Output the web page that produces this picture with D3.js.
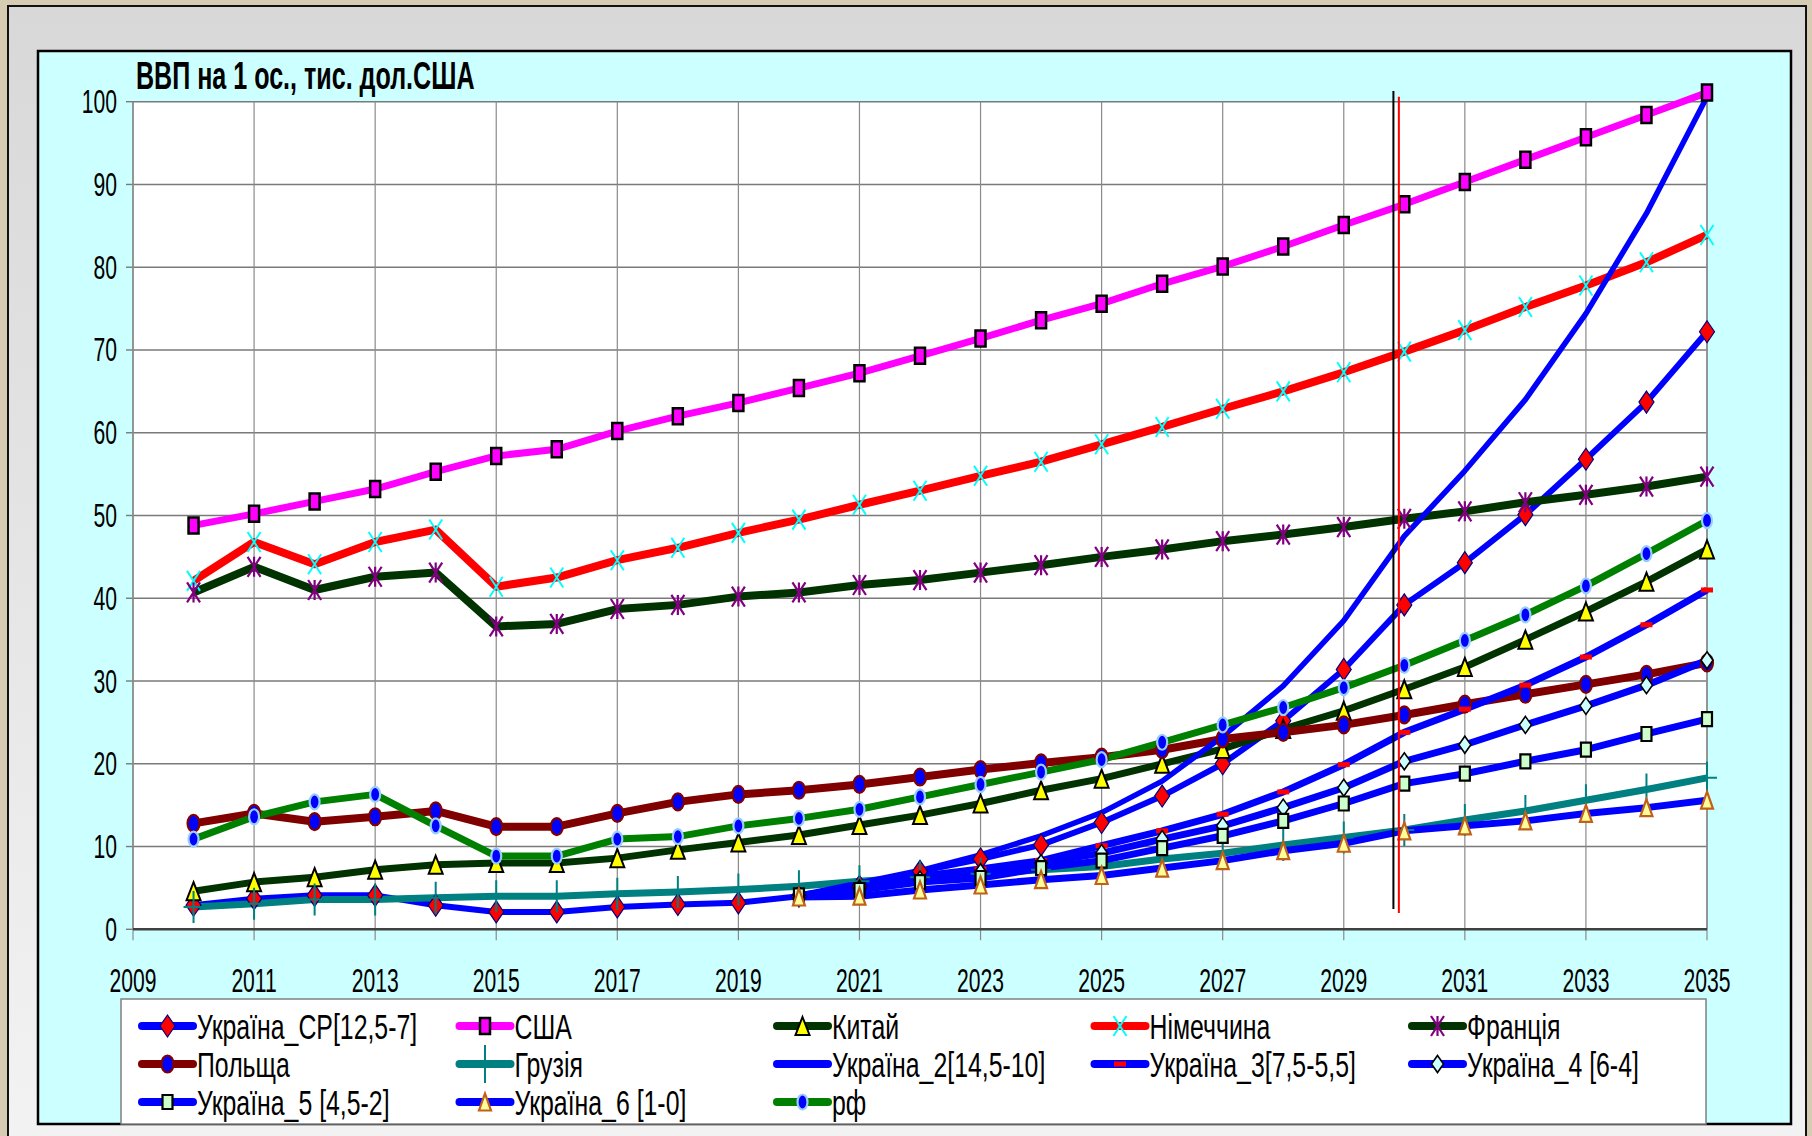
<!DOCTYPE html>
<html><head><meta charset="utf-8">
<script src="https://cdn.jsdelivr.net/npm/d3@7"></script>
<style>html,body{margin:0;padding:0;background:#d8ceb6;overflow:hidden} svg{display:block}</style>
</head><body>
<svg id="c" width="1812" height="1136"></svg>
<script>
// ---------------- DATA ----------------
const years = d3.range(2010, 2036);          // 2010..2035
const scenarioYears = d3.range(2020, 2036);  // 2020..2035
const xTickLabels = d3.range(2009, 2036, 2);
const yTickLabels = d3.range(0, 101, 10);
const titleText = "ВВП на 1 ос., тис. дол.США";

const seriesNames = ["Україна_СР[12,5-7]", "США", "Китай", "Німеччина", "Франція",
  "Польща", "Грузія", "Україна_2[14,5-10]", "Україна_3[7,5-5,5]", "Україна_4 [6-4]",
  "Україна_5 [4,5-2]", "Україна_6 [1-0]", "рф"];

const ukraineCP = [2.9, 3.7, 4.1, 4.1, 2.9, 2.1, 2.1, 2.7, 3.0, 3.2, 4.0, 5.2, 7.0, 8.5, 10.2, 12.9, 16.1, 20.0, 25.2, 31.4, 39.2, 44.3, 50.1, 56.8, 63.7, 72.2];
const usa = [48.8, 50.2, 51.7, 53.2, 55.3, 57.2, 58.0, 60.2, 62.0, 63.6, 65.4, 67.2, 69.3, 71.4, 73.6, 75.6, 78.0, 80.1, 82.5, 85.1, 87.6, 90.3, 93.0, 95.7, 98.4, 101.1];
const china = [4.6, 5.7, 6.3, 7.2, 7.8, 8.0, 8.0, 8.6, 9.6, 10.5, 11.4, 12.6, 13.8, 15.2, 16.8, 18.2, 20.0, 21.8, 24.2, 26.4, 29.0, 31.7, 35.0, 38.4, 42.0, 45.9];
const germany = [42.1, 46.8, 44.1, 46.8, 48.3, 41.4, 42.5, 44.6, 46.1, 47.9, 49.5, 51.3, 53.0, 54.8, 56.5, 58.6, 60.7, 62.9, 65.0, 67.3, 69.8, 72.4, 75.2, 77.8, 80.6, 83.9];
const france = [40.7, 43.8, 41.0, 42.6, 43.1, 36.6, 36.9, 38.7, 39.2, 40.2, 40.7, 41.6, 42.2, 43.1, 44.0, 45.0, 45.9, 46.9, 47.7, 48.6, 49.6, 50.5, 51.6, 52.5, 53.5, 54.7];
const poland = [12.8, 14.0, 13.0, 13.6, 14.3, 12.4, 12.4, 14.0, 15.4, 16.3, 16.8, 17.5, 18.4, 19.3, 20.1, 20.8, 21.7, 23.0, 23.8, 24.7, 25.9, 27.2, 28.4, 29.6, 30.8, 32.2];
const georgia = [2.7, 3.1, 3.6, 3.6, 3.8, 4.0, 4.0, 4.3, 4.5, 4.8, 5.2, 5.8, 6.3, 6.7, 7.2, 7.6, 8.5, 9.2, 10.2, 11.1, 12.0, 13.2, 14.3, 15.6, 16.9, 18.3];
const ukraine2 = [4.1, 5.6, 7.1, 9.0, 11.3, 14.1, 17.9, 23.3, 29.4, 37.3, 47.5, 55.4, 64.0, 74.4, 86.5, 100.6];
const ukraine3 = [4.1, 5.0, 6.4, 7.3, 8.3, 10.1, 11.9, 13.9, 16.6, 19.9, 23.8, 26.6, 29.5, 32.9, 36.8, 41.0];
const ukraine4 = [4.1, 4.9, 6.0, 6.9, 8.0, 9.2, 10.9, 12.5, 14.7, 17.1, 20.3, 22.3, 24.7, 27.0, 29.5, 32.5];
const ukraine5 = [4.1, 4.75, 5.7, 6.2, 7.4, 8.3, 9.8, 11.3, 13.1, 15.2, 17.6, 18.8, 20.3, 21.7, 23.6, 25.4];
const ukraine6 = [3.9, 4.0, 4.75, 5.35, 6.0, 6.5, 7.4, 8.3, 9.5, 10.4, 11.9, 12.5, 13.1, 14.0, 14.7, 15.6];
const russia = [10.9, 13.6, 15.4, 16.3, 12.5, 8.85, 8.85, 10.9, 11.2, 12.5, 13.4, 14.5, 16.0, 17.5, 19.0, 20.5, 22.6, 24.7, 26.8, 29.2, 31.9, 34.9, 38.0, 41.5, 45.4, 49.4];

// vertical reference lines: year, lower value, upper value
const refLineYears = [2029.82, 2029.91];
const refLineFrom = [2.45, 1.97];
const refLineTo = [101.3, 100.6];

// ---------------- STYLE ----------------
const styles = [
  {line:"#0000ff", lw:6, m:"diamond", mw:15, mh:22, fill:"#ff0000", stroke:"#000080", sw:1.2},
  {line:"#ff00ff", lw:7, m:"rect", mw:10, mh:16, fill:"#ff00ff", stroke:"#000000", sw:2.5},
  {line:"#003300", lw:7, m:"triangle", mw:14, mh:18, fill:"#ffff00", stroke:"#000000", sw:2},
  {line:"#ff0000", lw:8, m:"x", mw:13, mh:20, fill:"none", stroke:"#00ffff", sw:2},
  {line:"#003300", lw:8, m:"star", mw:13, mh:20, fill:"none", stroke:"#800080", sw:2.2},
  {line:"#800000", lw:8, m:"ellipse", mw:12, mh:17, fill:"#0000ff", stroke:"#800000", sw:2.2},
  {line:"#008080", lw:7, m:"plus", mw:20, mh:32, fill:"none", stroke:"#008080", sw:2},
  {line:"#0000ff", lw:5.5, m:"none"},
  {line:"#0000ff", lw:7, m:"dash", mw:12, mh:5, fill:"#ff0000", stroke:"none", sw:0},
  {line:"#0000ff", lw:7, m:"diamond", mw:12, mh:17, fill:"#ccffff", stroke:"#000000", sw:1.6},
  {line:"#0000ff", lw:7, m:"rect", mw:10, mh:14, fill:"#ccffcc", stroke:"#000000", sw:2.2},
  {line:"#0000ff", lw:7, m:"triangle", mw:12, mh:17, fill:"#ffff99", stroke:"#c0601a", sw:2.2},
  {line:"#008000", lw:7, m:"ellipse", mw:10, mh:15, fill:"#0000ff", stroke:"#99ccff", sw:2.2}
];
const seriesValues = [ukraineCP, usa, china, germany, france, poland, georgia,
  ukraine2, ukraine3, ukraine4, ukraine5, ukraine6, russia];
const seriesYears = [years, years, years, years, years, years, years,
  scenarioYears, scenarioYears, scenarioYears, scenarioYears, scenarioYears, years];

const FONT = "'Liberation Sans', Arial, sans-serif";
const svg = d3.select("#c");

// background frames
const defs = svg.append("defs");
const g1 = defs.append("linearGradient").attr("id","gpanel").attr("x1",0).attr("y1",0).attr("x2",0).attr("y2",1);
g1.append("stop").attr("offset","0%").attr("stop-color","#d8d8d8");
g1.append("stop").attr("offset","100%").attr("stop-color","#f3f3f3");
svg.append("rect").attr("x",0).attr("y",0).attr("width",1812).attr("height",1136).attr("fill","#d6ccb3");
svg.append("rect").attr("x",8).attr("y",6).attr("width",1798).attr("height",1145)
  .attr("fill","url(#gpanel)").attr("stroke","#111").attr("stroke-width",2);
svg.append("rect").attr("x",38).attr("y",51).attr("width",1753).attr("height",1073)
  .attr("fill","#ccffff").attr("stroke","#000").attr("stroke-width",2.5);

// scales
const x = d3.scaleLinear().domain([2009, 2035]).range([133, 1707]);
const y = d3.scaleLinear().domain([0, 100]).range([929.3, 101.7]);

// plot area
svg.append("rect").attr("x",x(2009)).attr("y",y(100)).attr("width",x(2035)-x(2009)).attr("height",y(0)-y(100))
  .attr("fill","#ffffff");

// grid
const grid = svg.append("g");
grid.selectAll("line.h").data(yTickLabels).join("line")
  .attr("x1",x(2009)).attr("x2",x(2035)).attr("y1",d=>y(d)).attr("y2",d=>y(d))
  .attr("stroke","#7a7a7a").attr("stroke-width",1.6);
grid.selectAll("line.v").data(xTickLabels).join("line")
  .attr("x1",d=>x(d)).attr("x2",d=>x(d)).attr("y1",y(100)).attr("y2",y(0)+11)
  .attr("stroke","#8a8a8a").attr("stroke-width",1.2);
grid.selectAll("line.t").data(yTickLabels).join("line")
  .attr("x1",x(2009)-7).attr("x2",x(2009)).attr("y1",d=>y(d)).attr("y2",d=>y(d))
  .attr("stroke","#7a7a7a").attr("stroke-width",1.4);
svg.append("line").attr("x1",x(2035)).attr("x2",x(2035)).attr("y1",y(100)).attr("y2",y(0))
  .attr("stroke","#8a8a8a").attr("stroke-width",1.5);
svg.append("line").attr("x1",x(2009)).attr("x2",x(2009)).attr("y1",y(100)).attr("y2",y(0))
  .attr("stroke","#8a8a8a").attr("stroke-width",1.5);
svg.append("line").attr("x1",x(2009)).attr("x2",x(2035)).attr("y1",y(0)).attr("y2",y(0))
  .attr("stroke","#404040").attr("stroke-width",2.5);

// compressed text helper
function ctext(parent, tx, ty, str, size, sx, anchor, weight) {
  return parent.append("text")
    .attr("transform", `translate(${tx},${ty}) scale(${sx},1)`)
    .attr("text-anchor", anchor || "start")
    .attr("font-family", FONT).attr("font-size", size)
    .attr("font-weight", weight || "normal")
    .attr("fill", "#000").text(str);
}

// axis labels
yTickLabels.forEach(v => ctext(svg, 117, y(v) + 11.5, String(v), 33, 0.64, "end"));
xTickLabels.forEach(v => ctext(svg, x(v), 992, String(v), 33, 0.64, "middle"));

// title
ctext(svg, 136, 89, titleText, 38, 0.66, "start", "bold");

// marker path generator
function markerPath(type, w, h) {
  const a = w/2, b = h/2;
  switch (type) {
    case "diamond": return `M0,${-b}L${a},0L0,${b}L${-a},0Z`;
    case "rect": case "dash": return `M${-a},${-b}H${a}V${b}H${-a}Z`;
    case "triangle": return `M0,${-b}L${a},${b}L${-a},${b}Z`;
    case "x": return `M${-a},${-b}L${a},${b}M${a},${-b}L${-a},${b}`;
    case "star": return `M${-a},${-b}L${a},${b}M${a},${-b}L${-a},${b}M0,${-b}V${b}`;
    case "plus": return `M0,${-b}V${b}M${-a},0H${a}`;
    case "ellipse": return `M${-a},0A${a},${b} 0 1,0 ${a},0A${a},${b} 0 1,0 ${-a},0Z`;
  }
  return "";
}

const lineGen = d3.line().x(d=>x(d[0])).y(d=>y(d[1]));
const seriesData = seriesValues.map((vals, i) => vals.map((v, j) => [seriesYears[i][j], v]));

// lines
const linesG = svg.append("g");
seriesData.forEach((pts, i) => {
  const s = styles[i];
  linesG.append("path").attr("d", lineGen(pts)).attr("fill","none")
    .attr("stroke", s.line).attr("stroke-width", s.lw)
    .attr("stroke-linejoin","round").attr("stroke-linecap","butt");
});
// markers
const markG = svg.append("g");
seriesData.forEach((pts, i) => {
  const s = styles[i];
  if (s.m === "none") return;
  markG.selectAll(null).data(pts).join("path")
    .attr("transform", d => `translate(${x(d[0])},${y(d[1])})`)
    .attr("d", markerPath(s.m, s.mw, s.mh))
    .attr("fill", s.fill).attr("stroke", s.stroke).attr("stroke-width", s.sw);
});

// vertical reference lines
const refColors = ["#000000", "#ff0000"];
refLineYears.forEach((yr, i) => {
  svg.append("line").attr("x1", x(yr)).attr("x2", x(yr))
    .attr("y1", y(refLineTo[i])).attr("y2", y(refLineFrom[i]))
    .attr("stroke", refColors[i]).attr("stroke-width", 2);
});

// legend
const leg = svg.append("g");
leg.append("rect").attr("x",121).attr("y",999).attr("width",1585).attr("height",125)
  .attr("fill","#ffffff").attr("stroke","#808080").attr("stroke-width",1.5);
const colX = d3.range(5).map(c => 142 + c * 317.5);
const rowY = [1026, 1064, 1102];
seriesNames.forEach((name, i) => {
  const s = styles[i];
  const cx = colX[i % 5], cy = rowY[Math.floor(i / 5)];
  leg.append("line").attr("x1", cx).attr("x2", cx + 51).attr("y1", cy).attr("y2", cy)
    .attr("stroke", s.line).attr("stroke-width", 8).attr("stroke-linecap","round");
  if (s.m !== "none") {
    leg.append("path").attr("transform", `translate(${cx + 25.5},${cy})`)
      .attr("d", markerPath(s.m, s.m === "plus" ? 18 : s.mw, s.m === "plus" ? 38 : s.mh))
      .attr("fill", s.fill).attr("stroke", s.stroke).attr("stroke-width", s.sw);
  }
  ctext(leg, cx + 55, cy + 12.5, name, 35, 0.71, "start");
});
</script>
</body></html>
